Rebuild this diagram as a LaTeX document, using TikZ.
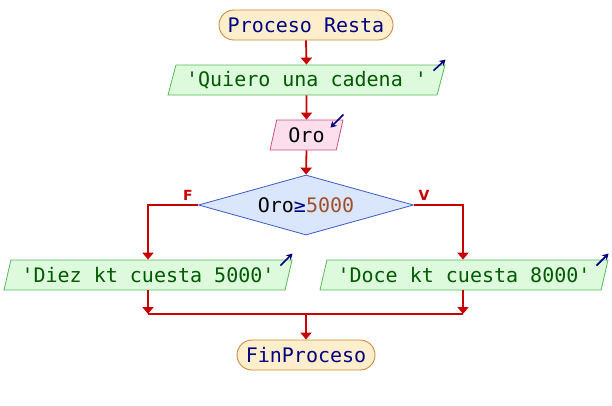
\documentclass[tikz,border=0pt]{standalone}
\usepackage{fontspec}
\setmainfont{DejaVu Sans Mono}
\newfontfamily\lblfont{DejaVu Sans}
\usetikzlibrary{shapes.geometric,arrows.meta}
\definecolor{procfill}{RGB}{255,238,204}
\definecolor{procdraw}{RGB}{200,140,60}
\definecolor{navytext}{RGB}{0,0,128}
\definecolor{outfill}{RGB}{221,250,221}
\definecolor{outdraw}{RGB}{90,185,90}
\definecolor{outtext}{RGB}{0,90,0}
\definecolor{infill}{RGB}{252,222,236}
\definecolor{indraw}{RGB}{200,80,130}
\definecolor{decfill}{RGB}{218,230,252}
\definecolor{decdraw}{RGB}{60,90,200}
\definecolor{numcol}{RGB}{160,80,40}
\definecolor{flowred}{RGB}{200,0,0}
\newcommand{\sq}{\textquotesingle}
\tikzset{
  procbox/.style={draw=procdraw, fill=procfill, rounded corners=15pt, minimum height=30pt, inner sep=0pt, text=navytext, font=\fontsize{20}{22}\selectfont, line width=0.9pt},
  outbox/.style={draw=outdraw, fill=outfill, trapezium, trapezium left angle=66, trapezium right angle=114, trapezium stretches body, minimum height=30pt, inner sep=0pt, text=outtext, font=\fontsize{20}{22}\selectfont, line width=0.8pt},
  inbox/.style={draw=indraw, fill=infill, trapezium, trapezium left angle=66, trapezium right angle=114, trapezium stretches body, minimum height=30pt, inner sep=0pt, text=black, font=\fontsize{20}{22}\selectfont, line width=0.8pt},
  decbox/.style={draw=decdraw, fill=decfill, diamond, aspect=3.58, minimum width=215pt, minimum height=60pt, inner sep=0pt, font=\fontsize{20}{22}\selectfont, line width=0.8pt},
  flow/.style={draw=flowred, line width=1.8pt, -{Triangle[width=11pt,length=7pt]}},
  flowline/.style={draw=flowred, line width=1.8pt},
  iconarrow/.style={draw=navytext, line width=1.6pt, -{Stealth[width=7pt,length=6pt]}},
  branchlbl/.style={text=flowred, font=\lblfont\bfseries\fontsize{14}{16}\selectfont, inner sep=0pt}
}
\begin{document}
\begin{tikzpicture}[x=1pt,y=-1pt]
\useasboundingbox (0,0) rectangle (612,405);
\fill[white] (0,0) rectangle (612,405);
\node[procbox, minimum width=174pt] (start) at (306,25) {Proceso Resta};
\node[outbox, minimum width=277pt] (q) at (306.5,80) {\sq Quiero una cadena \sq};
\node[inbox, minimum width=73pt] (o) at (306.5,135) {Oro};
\node[decbox] (d) at (306,205) {Oro{\color{navytext}≥}{\color{numcol}5000}};
\node[outbox, minimum width=288pt] (l) at (148,275) {\sq Diez kt cuesta 5000\sq};
\node[outbox, minimum width=288pt] (r) at (464,275) {\sq Doce kt cuesta 8000\sq};
\node[procbox, minimum width=138pt] (fin) at (306,355) {FinProceso};
\coordinate (ml) at (148,314);
\coordinate (mr) at (463,314);
\coordinate (mc) at (306,314);
\node[branchlbl] (fl) at (188,195) {F};
\node[branchlbl] (vl) at (424,195) {V};
% flow
\draw[flow] (start.south) -- (q.north);
\draw[flow] (q.south) -- (o.north);
\draw[flow] (o.south) -- (d.north);
\draw[flow] (d.west) -| (l.north -| ml);
\draw[flow] (d.east) -| (r.north -| mr);
\draw[flow] (l.south -| ml) -- (ml);
\draw[flow] (r.south -| mr) -- (mr);
\draw[flowline] (ml) -- (mr);
\draw[flow] (mc) -- (fin.north);
% icons
\draw[iconarrow] ([xshift=-12pt,yshift=-6pt]q.top right corner) -- ([yshift=5pt]q.top right corner);
\draw[iconarrow] ([yshift=5pt]o.top right corner) -- ([xshift=-13pt,yshift=-8pt]o.top right corner);
\draw[iconarrow] ([xshift=-12pt,yshift=-6pt]l.top right corner) -- ([yshift=6pt]l.top right corner);
\draw[iconarrow] ([xshift=-12pt,yshift=-6pt]r.top right corner) -- ([yshift=6pt]r.top right corner);
\end{tikzpicture}
\end{document}
